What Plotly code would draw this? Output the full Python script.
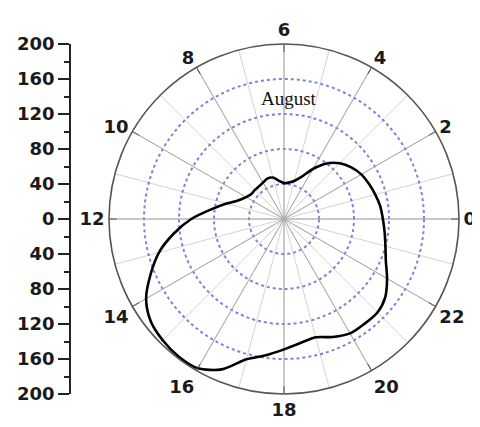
import plotly.graph_objects as go

# ---- data (hour of day -> radius) ----
hours = [0, 0.5, 1, 1.5, 2, 2.5, 3, 3.5, 4, 4.5, 5, 5.5,
         6, 6.5, 7, 7.5, 8, 8.5, 9, 9.5, 10, 10.5, 11, 11.5,
         12, 12.5, 13, 13.5, 14, 14.5, 15, 15.5, 16, 16.5, 17, 17.5,
         18, 18.5, 19, 19.5, 20, 20.5, 21, 21.5, 22, 22.5, 23, 23.5, 24]
values = [113, 111, 108, 105, 102, 97, 90, 80, 66, 52, 45, 42,
          41, 44, 49, 50, 48, 47, 47, 47, 50, 56, 68, 84,
          106, 127, 148, 165, 182, 192, 196, 198, 197, 186, 166, 157,
          149, 143, 140, 146, 151, 151, 151, 146, 136, 126, 120, 116, 113]

hour_ticks = [0, 2, 4, 6, 8, 10, 12, 14, 16, 18, 20, 22]
hour_labels = ["0", "2", "4", "6", "8", "10", "12", "14", "16", "18", "20", "22"]
minor_hours = list(range(24))
ring_values = [40, 80, 120, 160, 200]
side_ticks = [-200, -160, -120, -80, -40, 0, 40, 80, 120, 160, 200]
side_labels = ["200", "160", "120", "80", "40", "0", "40", "80", "120", "160", "200"]

DEG_PER_HOUR = 15

W, H = 480, 427
OFF = 8  # page body margin offset
cx, cy, R = 284 - OFF, 219 - OFF, 175
dom_x = [(cx - R) / W, (cx + R) / W]
dom_y = [(H - cy - R) / H, (H - cy + R) / H]

bold = dict(family="DejaVu Sans", size=18, color="#1a1a1a", weight="bold")

fig = go.Figure()

# base polar: hourly light spokes + dotted rings
fig.add_trace(go.Scatterpolar(r=[0], theta=[0], mode="markers",
                              marker=dict(opacity=0), subplot="polar",
                              showlegend=False, hoverinfo="skip"))
# top polar: data curve
fig.add_trace(go.Scatterpolar(
    r=values, theta=[h * DEG_PER_HOUR for h in hours], mode="lines",
    line=dict(color="black", width=2.6, shape="spline", smoothing=0.8),
    subplot="polar2", showlegend=False))

# dummy trace for side radial scale
fig.add_trace(go.Scatter(x=[0], y=[0], mode="markers", marker=dict(opacity=0),
                         xaxis="x", yaxis="y", showlegend=False, hoverinfo="skip"))

fig.update_layout(
    width=W, height=H, autosize=False,
    margin=dict(l=0, r=0, t=0, b=0, autoexpand=False),
    paper_bgcolor="white", plot_bgcolor="white",
    polar=dict(
        domain=dict(x=dom_x, y=dom_y),
        bgcolor="white",
        radialaxis=dict(range=[0, 200], tickvals=ring_values, showticklabels=False,
                        ticks="", showline=False, gridcolor="rgba(85,85,215,0.75)",
                        griddash="dot", gridwidth=1.6),
        angularaxis=dict(rotation=0, direction="counterclockwise", thetaunit="degrees",
                         tickvals=[h * DEG_PER_HOUR for h in minor_hours],
                         showticklabels=False, ticks="", showline=False,
                         gridcolor="#d4d4d4", gridwidth=1),
    ),
    polar2=dict(
        domain=dict(x=dom_x, y=dom_y),
        bgcolor="rgba(0,0,0,0)",
        radialaxis=dict(range=[0, 200], showticklabels=False, ticks="",
                        showline=False, showgrid=False),
        angularaxis=dict(rotation=0, direction="counterclockwise", thetaunit="degrees",
                         tickvals=[h * DEG_PER_HOUR for h in hour_ticks],
                         ticktext=hour_labels, tickfont=bold,
                         ticks="inside", ticklen=7, tickcolor="#555",
                         showline=True, linecolor="#555", linewidth=1.6,
                         gridcolor="#a8a8a8", gridwidth=1.3),
    ),
    xaxis=dict(domain=[0.0, 0.01], visible=False, range=[0, 1]),
    yaxis=dict(anchor="free", position=(70 - OFF) / W, domain=dom_y, range=[-200, 200],
               automargin=False,
               tickvals=side_ticks, ticktext=side_labels, tickfont=bold,
               ticks="outside", ticklen=11, tickwidth=1.5, tickcolor="#222",
               showline=True, linecolor="#222", linewidth=1.6,
               showgrid=False, zeroline=False,
               minor=dict(dtick=20, ticks="outside", ticklen=5, tickcolor="#222")),
    annotations=[dict(text="August", x=(289 - OFF) / W, y=(H - 86 + OFF) / H,
                      xref="paper", yref="paper", showarrow=False,
                      font=dict(family="Liberation Serif, Times New Roman",
                                size=19, color="#111"))],
)

fig.write_html("out.html")
